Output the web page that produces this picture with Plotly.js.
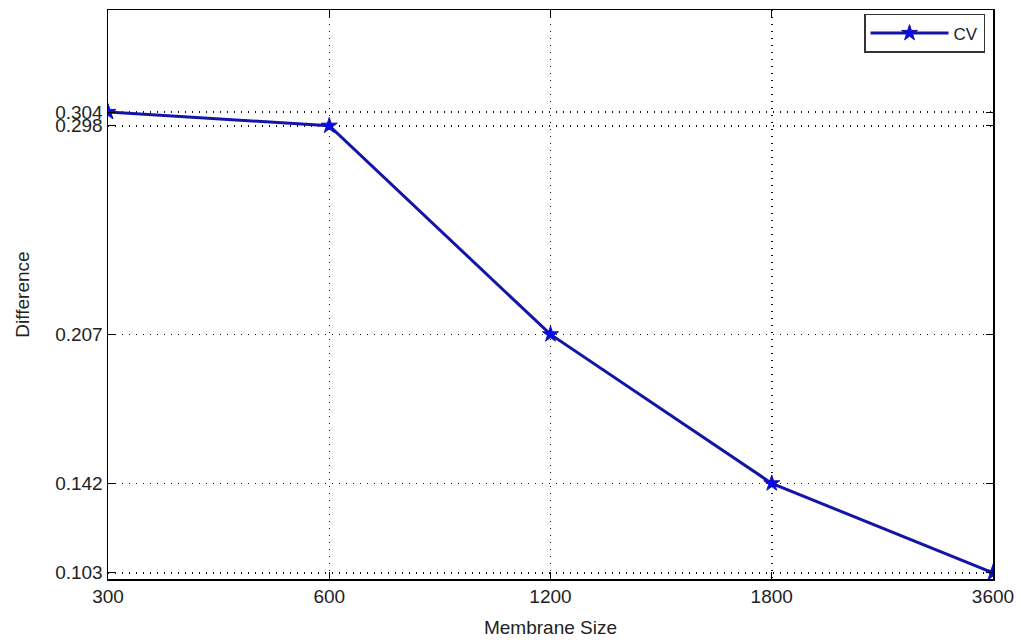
<!DOCTYPE html>
<html>
<head>
<meta charset="utf-8">
<script src="https://cdn.plot.ly/plotly-3.0.1.min.js"></script>
<style>html,body{margin:0;padding:0;background:#fff;}#chart{width:1021px;height:642px;}</style>
</head>
<body>
<div id="chart"></div>
<script>
var categories = ["300", "600", "1200", "1800", "3600"];
var cvValues = [0.304, 0.298, 0.207, 0.142, 0.103];
var yTicks = [0.103, 0.142, 0.207, 0.298, 0.304];

var trace = {
  x: categories,
  y: cvValues,
  type: 'scatter',
  mode: 'lines+markers',
  name: 'CV',
  line: {color: '#1414a6', width: 3},
  marker: {symbol: 'star', size: 12, color: '#0a0af0', line: {color: '#1414a6', width: 1}}
};

var axisFont = {family: 'Liberation Sans, Arial, sans-serif', size: 19, color: '#222'};

var layout = {
  width: 1021, height: 642,
  margin: {l: 108, r: 28, t: 10, b: 63},
  paper_bgcolor: '#fff', plot_bgcolor: '#fff',
  showlegend: true,
  legend: {x: 0.991, y: 0.993, xanchor: 'right', yanchor: 'top', bgcolor: '#fff', bordercolor: '#333', borderwidth: 1.5,
           font: {family: 'Liberation Sans, Arial, sans-serif', size: 17, color: '#222'}, itemwidth: 78, tracegroupgap: 0},
  xaxis: {
    type: 'category', range: [0, 4],
    showgrid: true, gridcolor: '#111', griddash: '1px,6px', gridwidth: 1.5,
    ticks: 'inside', ticklen: 7, tickcolor: '#000',
    showline: true, linecolor: '#000', linewidth: 1.5, mirror: 'ticks',
    zeroline: false, tickfont: axisFont,
    title: {text: 'Membrane Size', font: axisFont, standoff: 14}
  },
  yaxis: {
    range: [0.1003, 0.3485],
    tickmode: 'array', tickvals: yTicks, ticktext: yTicks.map(function(v){return v.toFixed(3);}),
    showgrid: true, gridcolor: '#111', griddash: '1px,6px', gridwidth: 1.5,
    ticks: 'inside', ticklen: 7, tickcolor: '#000',
    showline: true, linecolor: '#000', linewidth: 1.5, mirror: 'ticks',
    zeroline: false, tickfont: axisFont,
    title: {text: 'Difference', font: axisFont, standoff: 20}
  }
};

Plotly.newPlot('chart', [trace], layout, {displayModeBar: false, staticPlot: true});
</script>
</body>
</html>
